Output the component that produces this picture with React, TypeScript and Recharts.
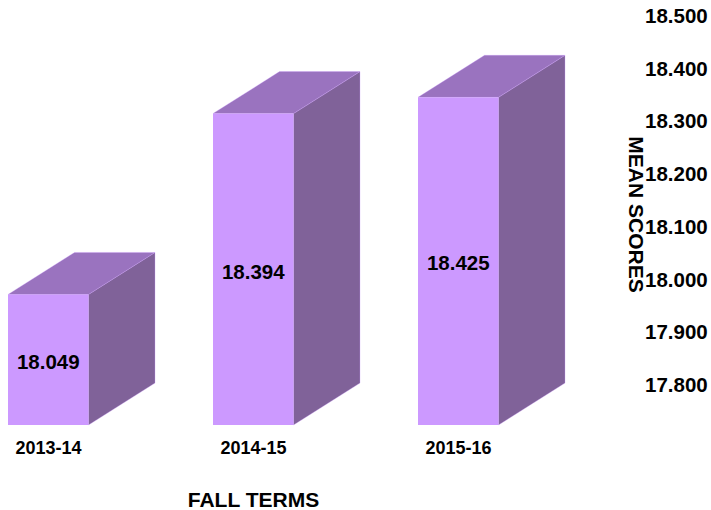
import { BarChart, Bar, XAxis, YAxis, LabelList, Label } from 'recharts';

const terms = ['2013-14', '2014-15', '2015-16'];
const meanScores = [18.049, 18.394, 18.425];
const scoreTicks = [17.8, 17.9, 18.0, 18.1, 18.2, 18.3, 18.4, 18.5];

const chartData = terms.map((term, i) => ({ term, score: meanScores[i] }));

const FONT = '"Liberation Sans", Arial, sans-serif';
// 3D offset of the back wall
const DEPTH_X = 66.5;
const DEPTH_Y = 42;
// the back wall labels sit a touch wider apart than the front of the bars
const WALL_STRETCH = 1.006;
const BASE_Y = 425;

function Box3D({ x, y, width, height }: any) {
  const r = x + width;
  const b = y + height;
  return (
    <g>
      <polygon
        points={`${r},${y} ${r + DEPTH_X},${y - DEPTH_Y} ${r + DEPTH_X},${b - DEPTH_Y} ${r},${b}`}
        fill="#806299"
        stroke="#cc99ff"
        strokeOpacity={0.4}
        strokeWidth={0.75}
      />
      <polygon
        points={`${x},${y} ${x + DEPTH_X},${y - DEPTH_Y} ${r + DEPTH_X},${y - DEPTH_Y} ${r},${y}`}
        fill="#9a73bf"
        stroke="#cc99ff"
        strokeOpacity={0.4}
        strokeWidth={0.75}
      />
      <rect x={x} y={y} width={width} height={height} fill="#cc99ff" />
    </g>
  );
}

function ScoreTick({ x, y, payload }: any) {
  const wallY = BASE_Y - DEPTH_Y - (BASE_Y - y) * WALL_STRETCH;
  return (
    <text x={x + 76} y={wallY + 2} dy={7} fill="#000" fontFamily={FONT} fontSize={20.5} fontWeight="bold">
      {payload.value.toFixed(3)}
    </text>
  );
}

function ScoreTitle({ viewBox }: any) {
  const cx = viewBox.x + 75;
  const cy = viewBox.y + viewBox.height / 2 - 27;
  return (
    <text
      x={cx}
      y={cy}
      transform={`rotate(90 ${cx} ${cy})`}
      textAnchor="middle"
      dominantBaseline="central"
      fill="#000"
      fontFamily={FONT}
      fontSize={21}
      fontWeight="bold"
    >
      MEAN SCORES
    </text>
  );
}

export default function App() {
  return (
    <div style={{ position: 'absolute', left: -54, top: 0 }}>
      <BarChart
        width={765}
        height={510}
        data={chartData}
        barSize={80.5}
        margin={{ top: 58, right: 0, bottom: 0, left: 0 }}
      >
        <XAxis
          dataKey="term"
          height={85}
          axisLine={false}
          tickLine={false}
          tickMargin={10}
          tick={{ fill: '#000', fontFamily: FONT, fontSize: 18, fontWeight: 'bold' }}
        >
          <Label
            value="FALL TERMS"
            position="insideBottom"
            offset={3}
            fill="#000"
            fontFamily={FONT}
            fontSize={21}
            fontWeight="bold"
          />
        </XAxis>
        <YAxis
          orientation="right"
          width={150}
          domain={[17.8, 18.5]}
          ticks={scoreTicks}
          axisLine={false}
          tickLine={false}
          tick={<ScoreTick />}
          label={<ScoreTitle />}
        />
        <Bar dataKey="score" shape={<Box3D />} isAnimationActive={false}>
          <LabelList
            dataKey="score"
            position="center"
            dy={2}
            fill="#000"
            fontFamily={FONT}
            fontSize={20.5}
            fontWeight="bold"
            formatter={(v: any) => v.toFixed(3)}
          />
        </Bar>
      </BarChart>
    </div>
  );
}
